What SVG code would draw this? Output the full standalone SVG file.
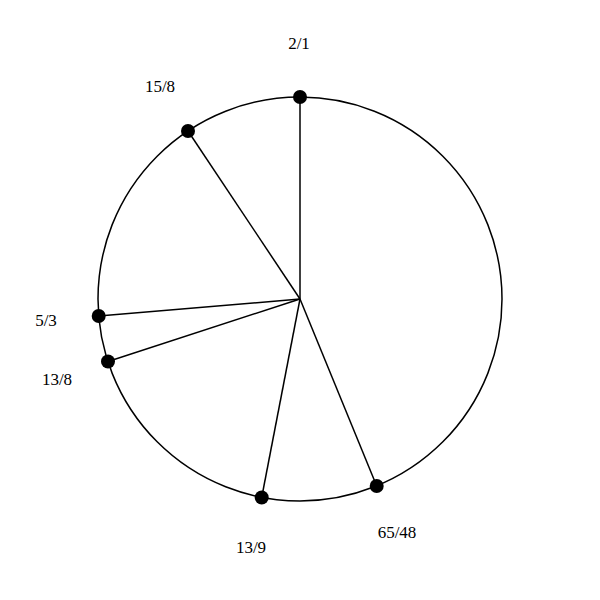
<svg xmlns="http://www.w3.org/2000/svg" width="600" height="600" viewBox="0 0 600 600">
<style>
.rim{fill:none;stroke:#000;stroke-width:1.5}
.spoke{stroke:#000;stroke-width:1.5}
.dot{fill:#000}
.lbl{font-family:"Liberation Serif",serif;font-size:17px;text-anchor:middle;fill:#000}
</style>
<rect width="600" height="600" fill="#fff"/>
<circle id="rim" class="rim" cx="300" cy="299" r="202"/>
<g id="connectors">
<line class="spoke" x1="300" y1="299" x2="300" y2="97"/>
<line class="spoke" x1="300" y1="299" x2="188" y2="131"/>
<line class="spoke" x1="300" y1="299" x2="98.7" y2="316"/>
<line class="spoke" x1="300" y1="299" x2="108" y2="361.5"/>
<line class="spoke" x1="300" y1="299" x2="261.7" y2="497.5"/>
<line class="spoke" x1="300" y1="299" x2="376.7" y2="486"/>
</g>
<g id="n21"><circle class="dot" cx="300" cy="97" r="7"/><text class="lbl" x="299" y="49">2/1</text></g>
<g id="n158"><circle class="dot" cx="188" cy="131" r="7"/><text class="lbl" x="160" y="92">15/8</text></g>
<g id="n53"><circle class="dot" cx="98.7" cy="316" r="7"/><text class="lbl" x="46" y="326">5/3</text></g>
<g id="n138"><circle class="dot" cx="108" cy="361.5" r="7"/><text class="lbl" x="57" y="385">13/8</text></g>
<g id="n139"><circle class="dot" cx="261.7" cy="497.5" r="7"/><text class="lbl" x="251" y="553">13/9</text></g>
<g id="n6548"><circle class="dot" cx="376.7" cy="486" r="7"/><text class="lbl" x="397" y="538">65/48</text></g>
</svg>
